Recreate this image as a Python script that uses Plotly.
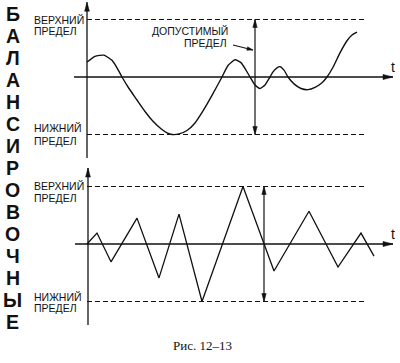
import math
import plotly.graph_objects as go

# ---------------- data ----------------
vertical_title = "БАЛАНСИРОВОЧНЫЕ"
caption = "Рис. 12–13"
upper_label = ["ВЕРХНИЙ", "ПРЕДЕЛ"]
lower_label = ["НИЖНИЙ", "ПРЕДЕЛ"]
tolerance_label = ["ДОПУСТИМЫЙ", "ПРЕДЕЛ"]
time_label = "t"

upper_limit = 1.0
lower_limit = -1.0
limit_end_t = 28.0

top_t = [0.0, 0.8, 1.7, 2.5, 3.0, 3.5, 4.2, 5.0, 5.8, 6.6, 7.4, 8.0, 8.5, 9.2,
         10.0, 10.8, 11.6, 12.5, 13.5, 14.1, 14.8, 15.4, 15.9, 16.3, 16.8, 17.3,
         17.8, 18.2, 18.6, 19.0, 19.3, 19.7, 20.1, 20.7, 21.4, 22.1, 22.8, 23.5,
         24.0, 24.6, 25.3, 26.0, 26.5, 27.0]
top_v = [0.26, 0.36, 0.38, 0.29, 0.16, 0.0, -0.20, -0.40, -0.60, -0.77, -0.90,
         -0.97, -1.0, -0.99, -0.93, -0.80, -0.59, -0.32, 0.0, 0.20, 0.30, 0.25,
         0.12, 0.0, -0.14, -0.20, -0.14, -0.03, 0.09, 0.16, 0.18, 0.12, 0.0,
         -0.12, -0.20, -0.22, -0.18, -0.10, 0.0, 0.17, 0.42, 0.63, 0.73, 0.78]

bottom_t = [0.0, 1.0, 2.4, 5.0, 7.2, 9.2, 11.5, 15.6, 18.7, 22.2, 25.1, 27.4, 28.7]
bottom_v = [0.0, 0.19, -0.31, 0.45, -0.59, 0.52, -1.0, 1.0, -0.47, 0.57, -0.40, 0.19, -0.21]

top_tolerance_t = 16.8
bottom_tolerance_t = 17.7

# ---------------- layout geometry ----------------
W, H = 400, 363
PX_PER_T = 10.0
T_ZERO_PX = 87.0
PX_PER_V = 57.5
TOP_ZERO_PX = 77.0
BOT_ZERO_PX = 244.0
INK = "#111111"
SANS = "Liberation Sans, Arial, sans-serif"
SERIF = "Liberation Serif, Times New Roman, serif"


def px(x):
    return x / W


def py(y):
    return 1 - y / H


fig = go.Figure()

# limit lines
for yax in ("y", "y2"):
    for lim in (upper_limit, lower_limit):
        fig.add_trace(go.Scatter(x=[0, limit_end_t], y=[lim, lim], mode="lines",
                                 yaxis=yax, hoverinfo="skip", showlegend=False,
                                 line=dict(color=INK, width=1, dash="5px,3px")))

fig.add_trace(go.Scatter(x=top_t, y=top_v, mode="lines", yaxis="y",
                         line=dict(color=INK, width=1.4, shape="spline", smoothing=0.5),
                         showlegend=False, hoverinfo="skip"))
fig.add_trace(go.Scatter(x=bottom_t, y=bottom_v, mode="lines", yaxis="y2",
                         line=dict(color=INK, width=1.3),
                         showlegend=False, hoverinfo="skip"))

shapes = []


def line(x0, y0, x1, y1, yref, w=1.3):
    shapes.append(dict(type="line", xref="x", yref=yref, x0=x0, y0=y0, x1=x1, y1=y1,
                       line=dict(color=INK, width=w)))


def head(x, y, yref, ang, L=9, hw=2.4):
    a = math.radians(ang)
    dx, dy = math.cos(a), math.sin(a)
    nx, ny = -dy, dx
    bx, by = -L * dx, -L * dy
    p1 = (bx + hw * nx, by + hw * ny)
    p2 = (bx - hw * nx, by - hw * ny)
    path = f"M0,0 L{p1[0]:.2f},{p1[1]:.2f} L{p2[0]:.2f},{p2[1]:.2f} Z"
    shapes.append(dict(type="path", xref="x", yref=yref, xsizemode="pixel",
                       ysizemode="pixel", xanchor=x, yanchor=y, path=path,
                       fillcolor=INK, line=dict(color=INK, width=0.5)))


# top panel axes
line(0, -1.41, 0, 1.30, "y")
head(0, 1.30, "y", 90)
line(-1.3, 0, 30.6, 0, "y")
head(30.6, 0, "y", 0, L=10, hw=2.6)
line(top_tolerance_t, lower_limit, top_tolerance_t, upper_limit, "y", w=1.2)
head(top_tolerance_t, upper_limit, "y", 90, L=8, hw=2.2)
head(top_tolerance_t, lower_limit, "y", 270, L=8, hw=2.2)
# leader
line(14.6, 0.557, 16.6, 0.47, "y", w=1.1)
head(16.6, 0.47, "y", -14, L=6, hw=1.8)

# bottom panel axes
line(0.1, -1.41, 0.1, 1.32, "y2")
head(0.1, 1.32, "y2", 90)
line(-1.2, 0, 30.6, 0, "y2")
head(30.6, 0, "y2", 0, L=10, hw=2.6)
line(bottom_tolerance_t, lower_limit, bottom_tolerance_t, upper_limit, "y2", w=1.2)
head(bottom_tolerance_t, upper_limit, "y2", 90, L=8, hw=2.2)
head(bottom_tolerance_t, lower_limit, "y2", 270, L=8, hw=2.2)

ann = []


def text(s, x, y, size, xanchor="left", family=SANS, bold=False):
    ann.append(dict(text=f"<b>{s}</b>" if bold else s, x=px(x), y=py(y),
                    xref="paper", yref="paper", xanchor=xanchor, yanchor="middle",
                    showarrow=False, font=dict(family=family, size=size, color=INK)))


# vertical title letters
for i, ch in enumerate(vertical_title):
    text(ch, 12.5, 13.7 + 22.02 * i, 19.5, xanchor="center", bold=True)

# limit labels
text(upper_label[0], 32, 20, 10.5)
text(upper_label[1], 32, 31, 10.5)
text(lower_label[0], 32, 128, 10.5)
text(lower_label[1], 32, 141, 10.5)
text(upper_label[0], 32, 186, 10.5)
text(upper_label[1], 32, 198, 10.5)
text(lower_label[0], 32, 297, 10.5)
text(lower_label[1], 32, 308, 10.5)
text(tolerance_label[0], 230, 31, 10.5, xanchor="right")
text(tolerance_label[1], 229, 43, 10.5, xanchor="right")
text(time_label, 393, 67, 14, xanchor="center")
text(time_label, 393, 234, 14, xanchor="center")
text(caption, 202, 345, 13, xanchor="center", family=SERIF)

x_range = [-T_ZERO_PX / PX_PER_T, (W - T_ZERO_PX) / PX_PER_T]
top_range = [(TOP_ZERO_PX - H) / PX_PER_V, TOP_ZERO_PX / PX_PER_V]
bot_range = [(BOT_ZERO_PX - H) / PX_PER_V, BOT_ZERO_PX / PX_PER_V]

fig.update_layout(
    width=W, height=H, margin=dict(l=0, r=0, t=0, b=0),
    paper_bgcolor="white", plot_bgcolor="white",
    xaxis=dict(range=x_range, visible=False, fixedrange=True),
    yaxis=dict(range=top_range, visible=False, fixedrange=True, domain=[0, 1]),
    yaxis2=dict(range=bot_range, visible=False, fixedrange=True, overlaying="y"),
    shapes=shapes, annotations=ann, showlegend=False,
)

fig.write_html(
    "out.html",
    config={"displayModeBar": False},
    post_script="document.body.style.margin='0';document.body.style.overflow='hidden';",
)
